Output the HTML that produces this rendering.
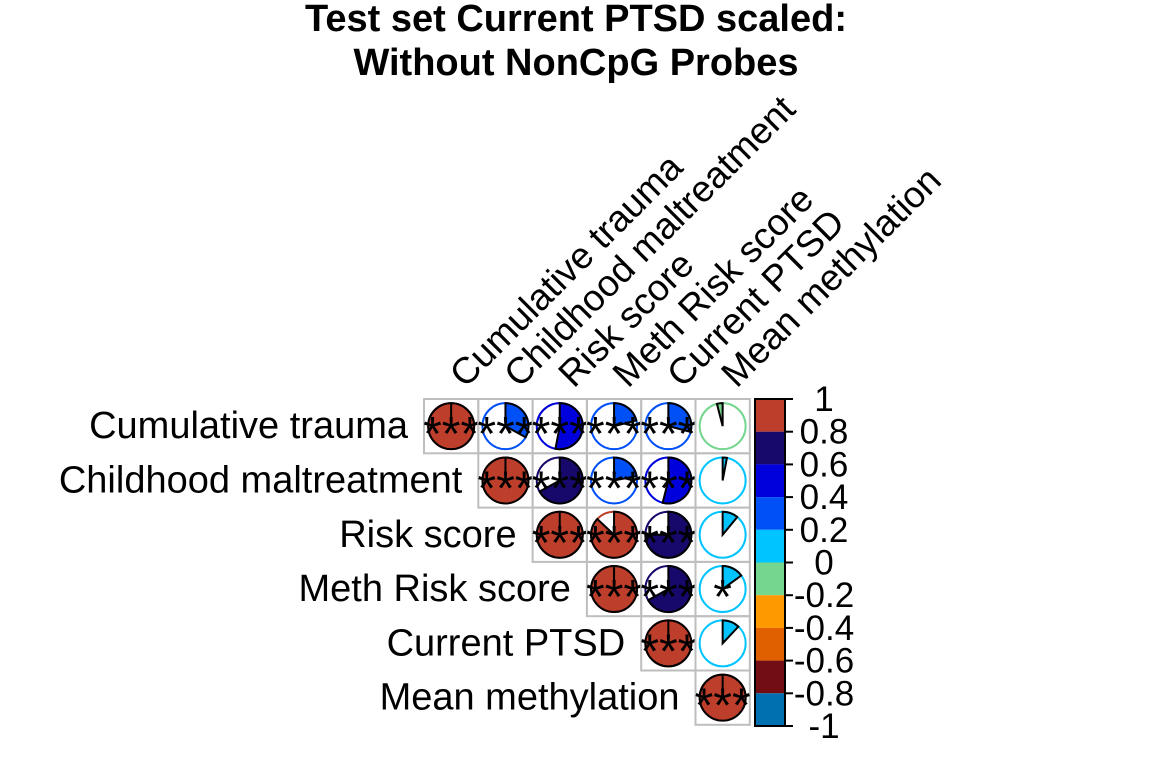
<!DOCTYPE html>
<html><head><meta charset="utf-8"><style>
body{margin:0;background:#fff}
svg{display:block;font-family:"Liberation Sans",sans-serif}
</style></head><body>
<svg id="c" width="1152" height="768">
<text x="576" y="31" text-anchor="middle" font-weight="bold" font-size="38">Test set Current PTSD scaled:</text>
<text x="576" y="75" text-anchor="middle" font-weight="bold" font-size="38">Without NonCpG Probes</text>
</svg>
<script>
const vars=["Cumulative trauma","Childhood maltreatment","Risk score","Meth Risk score","Current PTSD","Mean methylation"];
const corr=[
[1,0.33,0.53,0.21,0.29,-0.04],
[null,1,0.67,0.22,0.54,0.03],
[null,null,1,0.87,0.75,0.11],
[null,null,null,1,0.67,0.15],
[null,null,null,null,1,0.12],
[null,null,null,null,null,1]];
const stars=[
["***","***","***","***","***",""],
["","***","***","***","***",""],
["","","***","***","***",""],
["","","","***","***","*"],
["","","","","***",""],
["","","","","","***"]];
const colTicks=[1,0.8,0.6,0.4,0.2,0,-0.2,-0.4,-0.6,-0.8,-1];
const palette=["#BE3E2C","#16096B","#0000DD","#0050F8","#00C4FF","#74D68F","#FF9900","#E06000","#720D14","#0070B0"];
const NS="http://www.w3.org/2000/svg",svg=document.getElementById('c');
const x0=424,y0=399,cs=54.3,R=23;
function mk(t,a,p){const e=document.createElementNS(NS,t);for(const k in a)e.setAttribute(k,a[k]);(p||svg).appendChild(e);return e;}
function colOf(v){let i=Math.floor((1-v)/0.2);if(i<0)i=0;if(i>9)i=9;return palette[i];}
const cx=j=>x0+cs*(j+0.5), cy=i=>y0+cs*(i+0.5);
const cby=v=>399+(1-v)/2*327;
for(let i=0;i<6;i++){
  const lab=mk('text',{x:x0+cs*i-16,y:cy(i)+12,'text-anchor':'end','font-size':38});
  lab.textContent=vars[i];
  
  
  const cl=mk('text',{x:0,y:0,'font-size':37,transform:`translate(${cx(i)+14},${y0-10}) rotate(-45)`});
  cl.textContent=vars[i];
  
  
  for(let j=i;j<6;j++){
    const v=corr[i][j],X=cx(j),Y=cy(i),c=colOf(v);
    const g=mk('g',{});
    
    
    mk('rect',{x:x0+cs*j,y:y0+cs*i,width:cs,height:cs,fill:'none',stroke:'#bebebe','stroke-width':2},g);
    mk('circle',{cx:X,cy:Y,r:R,fill:'#fff',stroke:c,'stroke-width':2},g);
    const a=Math.abs(v)*2*Math.PI,s=v>=0?1:-1;
    if(Math.abs(v)>=0.999){mk('circle',{cx:X,cy:Y,r:R,fill:c,stroke:'#000','stroke-width':2},g);mk('line',{x1:X,y1:Y,x2:X,y2:Y-R,stroke:'#000','stroke-width':2},g);}
    else{
      const ex=X+s*R*Math.sin(a),ey=Y-R*Math.cos(a),large=a>Math.PI?1:0;
      mk('path',{d:`M${X},${Y}L${X},${Y-R}A${R},${R} 0 ${large} ${s>0?1:0} ${ex},${ey}Z`,fill:c,stroke:'#000','stroke-width':2},g);
    }
    if(stars[i][j]){const t=mk('text',{x:X,y:Y+24,'text-anchor':'middle','font-size':48},g);t.textContent=stars[i][j];}
  }
}
for(let k=0;k<10;k++){
  const r=mk('rect',{x:755,y:cby(colTicks[k]),width:30,height:cby(colTicks[k+1])-cby(colTicks[k]),fill:palette[k]});
  
  
}
mk('rect',{x:755,y:399,width:30,height:327,fill:'none',stroke:'#000','stroke-width':2});
colTicks.forEach(v=>{
  mk('line',{x1:785,x2:793,y1:cby(v),y2:cby(v),stroke:'#000','stroke-width':2});
  const t=mk('text',{x:824,y:cby(v)+12,'text-anchor':'middle','font-size':35});
  t.textContent=String(v);
  
  
});
</script>
</body></html>
